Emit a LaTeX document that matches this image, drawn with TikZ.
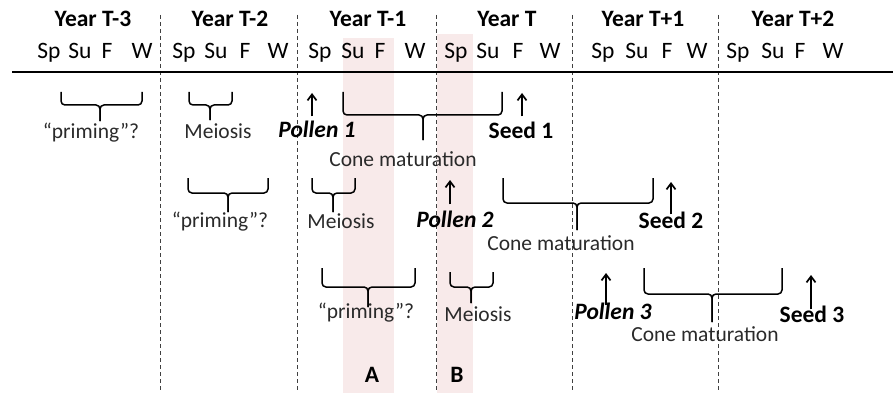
\documentclass[tikz,border=0pt]{standalone}
\usepackage{fontspec}
\setmainfont{Carlito}
\usepackage{xcolor}
\definecolor{BandPink}{HTML}{F8EAEA}
\definecolor{LabelGray}{HTML}{2A2A2A}
\usepackage{tikz}
\usetikzlibrary{arrows.meta,positioning}

\begin{document}
\begin{tikzpicture}[x=1pt,y=-1pt,
  year/.style={font=\fontsize{23.5}{28}\selectfont\bfseries,anchor=base},
  season/.style={font=\fontsize{23.5}{28}\selectfont,anchor=base},
  phase/.style={font=\fontsize{21.5}{26}\selectfont,text=LabelGray,anchor=base},
  event/.style={font=\fontsize{23.5}{28}\selectfont\bfseries,inner sep=1pt,anchor=base},
  pollen/.style={event,font=\fontsize{23.5}{28}\selectfont\bfseries\itshape},
  sep/.style={dash pattern=on 4pt off 3pt,black!75,line width=0.9pt},
  arr/.style={-{Straight Barb[length=6pt,width=9pt]},line width=1.7pt},
  brc/.style={line width=1.5pt,rounded corners=4pt},
  band/.style={fill=BandPink}
]
  \useasboundingbox (0,0) rectangle (893,393);

  % highlighted seasons
  \fill[band] (343,38) rectangle (394,393);
  \fill[band] (437,34) rectangle (473,393);
  \node[event] (bandA) at (372,382) {A};
  \node[event] (bandB) at (457,382) {B};

  % year boundaries and time axis
  \foreach \x in {160,297,436,572,718}
    \draw[sep] (\x,15) -- (\x,393);
  \draw[line width=2pt] (12,72) -- (893,72);

  % years and seasons
  \foreach \n/\x/\t in {m3/93/T-3,m2/230/T-2,m1/368/T-1,0/507/T,p1/643/T+1,p2/793/T+2}
    \node[year] (y\n) at (\x,27) {Year \t};
  \foreach \x/\s [count=\i] in {49/Sp,80/Su,107/F,142/W,184/Sp,216/Su,245/F,278/W,
      320/Sp,353/Su,380/F,415/W,456/Sp,488/Su,518/F,550/W,
      603/Sp,637/Su,667/F,697/W,738/Sp,773/Su,800/F,833/W}
    \node[season] (s\i) at (\x,59) {\s};

  % braces: left/tip/right/top/bar/point
  \foreach \l/\m/\r/\t/\b/\p in {61/100/142/92/105/121,189/210/232/92/105/120,
      343/423/502/92/115/140,188/228/268/178/193/212,312/333/355/178/193/212,
      503/577/653/178/203/230,322/368/415/268/287/307,450/471/493/272/287/303,
      644/712/782/268/294/322}
  {
    \draw[brc] (\l,\t) |- (\m,\b) -- (\m,\p);
    \draw[brc] (\r,\t) |- (\m,\b) -- (\m,\p);
  }

  % phase labels
  \node[phase] (prim1) at (91,138) {“priming”?};
  \node[phase] (meio1) at (218,138) {Meiosis};
  \node[phase] (cone1) at (403,166) {Cone maturation};
  \node[phase] (prim2) at (220,227) {“priming”?};
  \node[phase] (meio2) at (341,228) {Meiosis};
  \node[phase] (cone2) at (561,250) {Cone maturation};
  \node[phase] (prim3) at (366,318) {“priming”?};
  \node[phase] (meio3) at (478,321) {Meiosis};
  \node[phase] (cone3) at (705,341) {Cone maturation};

  % pollen and seed events
  \node[pollen] (pol1) at (317,137) {Pollen 1};
  \node[event] (seed1) at (521,138) {Seed 1};
  \node[pollen] (pol2) at (455,227) {Pollen 2};
  \node[event] (seed2) at (671,228) {Seed 2};
  \node[pollen] (pol3) at (613,319) {Pollen 3};
  \node[event] (seed3) at (812,322) {Seed 3};
  \coordinate (pol1top) at (312,93);
  \coordinate (seed1top) at (522,93);
  \coordinate (pol2top) at (450,180);
  \coordinate (seed2top) at (671,182);
  \coordinate (pol3top) at (606,273);
  \coordinate (seed3top) at (811,275);
  \draw[arr] ([yshift=3pt]pol1.north -| pol1top) -- (pol1top);
  \draw[arr] ([yshift=4pt]seed1.north -| seed1top) -- (seed1top);
  \draw[arr] ([yshift=5pt]pol2.north -| pol2top) -- (pol2top);
  \draw[arr] ([yshift=-4pt]seed2.north -| seed2top) -- (seed2top);
  \draw[arr] ([yshift=-4pt]pol3.north -| pol3top) -- (pol3top);
  \draw[arr] ([yshift=-5pt]seed3.north -| seed3top) -- (seed3top);
\end{tikzpicture}
\end{document}
